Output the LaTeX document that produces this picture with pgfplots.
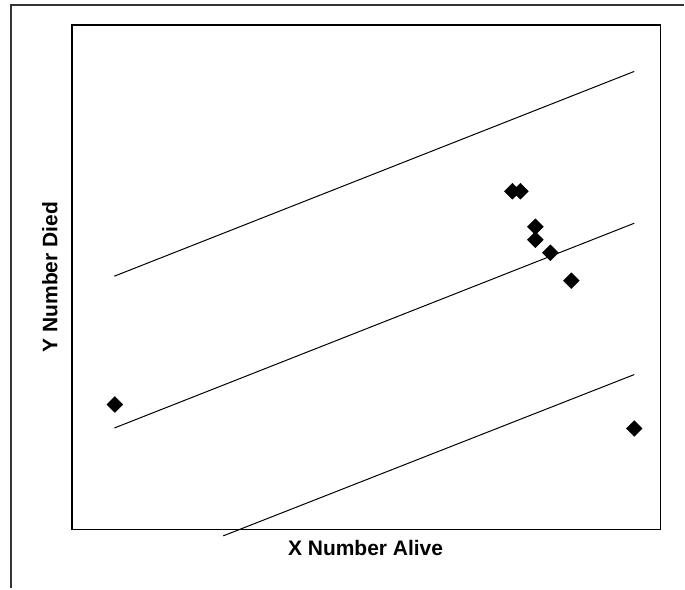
\documentclass[border=0pt]{standalone}
\usepackage{fontspec}
\setmainfont{Liberation Sans}
\usepackage{pgfplots}
\pgfplotsset{compat=1.18}
\begin{document}
\begin{tikzpicture}
\begin{axis}[
  scale only axis, width=589pt, height=505pt,
  xmin=72, xmax=661, ymin=59, ymax=564,
  xtick=\empty, ytick=\empty,
  axis line style={line width=1.3pt, black},
  clip=false,
]
\path (axis cs:0,0) rectangle (axis cs:685,589);
\draw[line width=1.6pt, black!80] (axis cs:10,584) -- (axis cs:685,584);
\draw[line width=1.6pt, black!80] (axis cs:11,584) -- (axis cs:11,0);
\addplot[black, line width=1pt] coordinates {(114.5,312.5) (635,517.5)};
\addplot[black, line width=1pt] coordinates {(114.5,160.5) (635,365.5)};
\addplot[black, line width=1pt] coordinates {(223.5,52.5) (635,214)};
\addplot[only marks, mark=square*, mark size=5.6pt, mark options={rotate=45, fill=black, draw=black}] coordinates {
(115,184) (513,397.5) (521,397.5) (536,362) (536,349) (551,336) (572,308) (635,160)};
\node[font=\fontsize{21}{25}\selectfont\bfseries] at (axis cs:366,40) {X Number Alive};
\node[font=\fontsize{21}{25}\selectfont\bfseries, rotate=90] at (axis cs:50,311.5) {Y Number Died};
\end{axis}
\end{tikzpicture}
\end{document}
